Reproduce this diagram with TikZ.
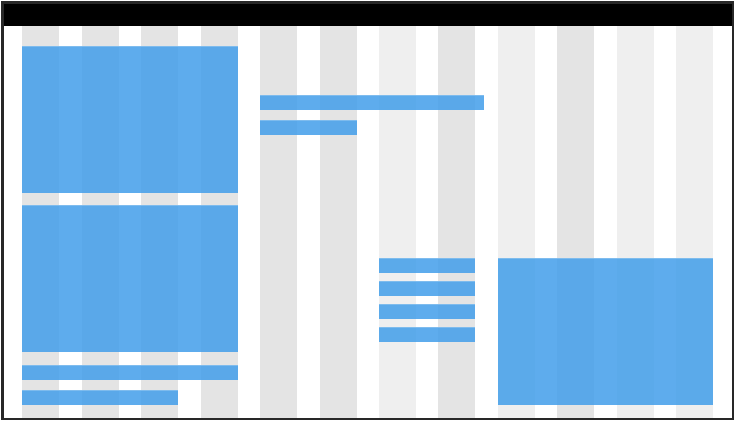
\documentclass[tikz,border=0pt]{standalone}
\begin{document}
\begin{tikzpicture}[x=1pt,y=-1pt,
  colA/.style={fill={rgb,255:red,228;green,228;blue,228}},
  colB/.style={fill={rgb,255:red,239;green,239;blue,239}},
  blk/.style={fill={rgb,255:red,66;green,158;blue,234},fill opacity=0.85},
  blkedge/.style={draw={rgb,255:red,150;green,200;blue,240},line width=0.8pt}]
\useasboundingbox (0,0) rectangle (736,422);
\fill[white] (0,0) rectangle (736,422);
% column stripes
\foreach \x/\s in {22/colA,82/colA,141/colA,201/colA,260/colA,320/colA,379/colB,438/colA,498/colB,557/colA,617/colB,676/colB}
  \path[\s] (\x,26) rectangle ++(37,392);
% header
\fill[black] (2,2) rectangle (734,26);
% blue blocks
\foreach \a/\b/\c/\d in {22/46/238/193, 22/205/238/352, 22/365/238/380, 22/390/178/405,
  260/95/484/110, 260/120/357/135,
  379/258/475/273, 379/281/475/296, 379/304/475/319, 379/327/475/342,
  498/258/713/405}{
  \path[blk] (\a,\b) rectangle (\c,\d);
  \draw[blkedge,opacity=0.6] (\a,\b+0.4) -- (\c,\b+0.4);
}
% frame
\draw[draw={rgb,255:red,40;green,40;blue,40},line width=2.4pt] (2.5,2.5) rectangle (733,419);
\end{tikzpicture}
\end{document}
